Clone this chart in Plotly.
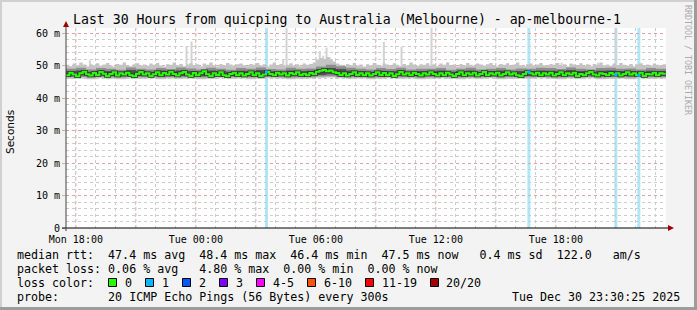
import plotly.graph_objects as go
from datetime import datetime, timedelta

# ---------------- data ----------------
start = datetime(2025, 12, 29, 17, 30, 25)
end = start + timedelta(hours=30)

# median rtt (ms), one value per 10 minutes
median_rtt = [
    47.0, 47.8, 47.2, 46.7, 47.6, 48.1, 47.3, 46.9, 47.7, 47.1, 48.0, 47.5, 46.8, 47.4, 47.9, 46.9, 47.6, 47.2,
    47.8, 47.0, 46.7, 47.5, 48.0, 47.2, 47.6, 46.8, 47.3, 47.9, 47.0, 47.7, 47.2, 48.1, 47.4, 46.9, 47.6, 48.0,
    47.2, 46.8, 47.7, 47.0, 47.6, 48.2, 47.3, 46.8, 47.6, 47.1, 47.9, 47.0, 46.7, 47.4, 47.8, 47.0, 47.6, 46.9,
    47.4, 47.9, 47.0, 47.6, 46.8, 47.2, 48.0, 47.4, 47.0, 47.8, 47.2, 47.6, 46.9, 47.7, 47.3, 47.9, 47.1, 47.5,
    47.0, 47.7, 47.3, 48.1, 48.4, 48.6, 48.2, 48.5, 47.9, 47.7, 47.1, 47.6, 46.9, 47.4, 47.9, 47.1, 47.6, 47.0,
    47.6, 46.9, 47.4, 47.9, 47.1, 47.7, 47.0, 47.6, 46.8, 47.3, 48.0, 47.2, 47.6, 47.0, 47.8, 47.4, 46.9, 47.6,
    47.2, 47.9, 47.4, 46.9, 47.6, 47.0, 47.8, 47.2, 46.8, 47.4, 47.9, 47.0, 47.6, 47.2, 47.8, 46.9, 47.4, 48.0,
    47.0, 47.6, 47.2, 47.8, 46.9, 47.4, 47.9, 47.2, 47.6, 47.0, 46.7, 47.4, 48.0, 47.6, 47.2, 47.8, 47.0, 47.6,
    47.2, 47.8, 46.9, 47.4, 47.9, 47.0, 47.6, 47.2, 47.8, 46.8, 47.4, 47.0, 47.6, 48.0, 47.2, 46.9, 47.6, 47.4,
    47.0, 47.7, 47.2, 47.6, 46.9, 47.4, 47.9, 47.2, 47.6, 47.0, 47.8, 46.8, 47.4, 47.2, 47.8, 47.0, 47.6, 47.5,
]

# top of the smoke (slowest regular ping, ms), one value per 10 minutes
outer_hi = [
    50.2, 49.8, 50.6, 50.0, 50.9, 50.3, 49.7, 50.4, 50.1, 50.7, 49.9, 50.3, 50.8, 50.0, 49.7, 50.5, 50.2, 50.9,
    50.1, 49.8, 50.4, 50.7, 50.0, 50.3, 49.9, 50.6, 50.2, 50.8, 50.0, 49.7, 50.4, 50.2, 50.9, 50.1, 50.5, 49.8,
    50.3, 50.7, 50.0, 50.4, 49.8, 50.6, 50.2, 50.9, 50.1, 49.7, 50.5, 50.0, 50.8, 50.3, 49.9, 50.4, 50.6, 50.1,
    49.8, 50.5, 50.2, 50.8, 50.0, 50.4, 49.7, 50.3, 50.9, 50.1, 50.5, 49.9, 50.2, 50.7, 50.0, 50.4, 49.8, 50.6,
    50.2, 50.5, 50.9, 51.6, 52.3, 52.0, 52.6, 51.8, 51.2, 50.6, 50.2, 49.9, 50.5, 50.1, 50.8, 50.0, 50.3, 49.7,
    50.4, 50.1, 50.8, 50.2, 49.9, 50.6, 50.3, 50.0, 50.7, 50.2, 49.8, 50.5, 50.1, 50.9, 50.3, 49.9, 50.4, 50.2,
    50.7, 50.0, 50.4, 49.8, 50.6, 50.2, 50.9, 50.1, 50.3, 49.7, 50.5, 50.0, 50.8, 50.2, 49.9, 50.6, 50.3, 50.0,
    50.4, 50.8, 50.1, 49.8, 50.5, 50.2, 50.7, 50.0, 50.3, 50.9, 50.1, 49.8, 50.4, 50.6, 50.0, 50.3, 50.8, 50.1,
    49.9, 50.5, 50.2, 50.8, 50.0, 50.4, 49.7, 50.6, 50.3, 50.1, 50.7, 50.0, 50.4, 49.8, 50.5, 50.2, 50.9, 50.1,
    50.3, 49.9, 50.6, 50.1, 50.8, 50.2, 50.0, 50.5, 49.8, 50.4, 50.7, 50.1, 50.3, 49.9, 50.6, 50.2, 50.0, 50.4,
]

# inner smoke bands (ms), one value per 30 minutes
outer_lo = [
    45.9, 46.0, 45.8, 46.1, 45.9, 45.8, 46.0, 45.9, 46.1, 45.8, 46.0, 45.9,
    46.0, 45.8, 45.9, 46.1, 45.9, 46.0, 45.8, 45.9, 46.1, 46.0, 45.8, 45.9,
    46.0, 46.2, 46.3, 46.1, 45.9, 46.0, 45.8, 45.9, 46.1, 45.9, 46.0, 45.8,
    45.9, 46.1, 45.9, 45.8, 46.0, 45.9, 46.1, 45.8, 45.9, 46.0, 45.9, 46.1,
    45.9, 45.8, 46.0, 45.9, 46.1, 45.8, 45.9, 46.0, 45.8, 46.1, 45.9, 46.0,
]
mid_hi = [
    49.0, 49.3, 48.8, 49.2, 49.0, 48.7, 49.4, 49.0, 48.8, 49.2, 48.9, 49.4,
    49.1, 48.8, 49.3, 49.0, 48.7, 49.2, 49.0, 49.4, 48.9, 48.8, 49.3, 49.0,
    49.1, 49.7, 50.2, 49.8, 49.3, 49.0, 48.8, 49.2, 48.9, 49.3, 48.8, 49.0,
    49.0, 49.2, 48.7, 49.0, 49.3, 48.8, 49.0, 49.2, 48.8, 49.1, 49.0, 49.3,
    49.2, 48.9, 49.4, 49.0, 48.8, 49.2, 49.3, 49.0, 49.1, 48.8, 49.2, 49.0,
]
mid_lo = [
    46.4, 46.5, 46.3, 46.5, 46.4, 46.3, 46.5, 46.4, 46.5, 46.3, 46.4, 46.4,
    46.5, 46.3, 46.4, 46.5, 46.4, 46.4, 46.3, 46.4, 46.5, 46.4, 46.3, 46.4,
    46.4, 46.6, 46.7, 46.5, 46.4, 46.4, 46.3, 46.4, 46.5, 46.4, 46.4, 46.3,
    46.4, 46.5, 46.4, 46.3, 46.4, 46.4, 46.5, 46.3, 46.4, 46.4, 46.4, 46.5,
    46.4, 46.3, 46.4, 46.4, 46.5, 46.3, 46.4, 46.4, 46.3, 46.5, 46.4, 46.4,
]
core_hi = [
    48.3, 48.5, 48.1, 48.4, 48.3, 48.1, 48.6, 48.3, 48.1, 48.5, 48.2, 48.5,
    48.3, 48.1, 48.5, 48.3, 48.1, 48.4, 48.3, 48.6, 48.2, 48.1, 48.5, 48.3,
    48.4, 48.9, 49.2, 48.9, 48.5, 48.3, 48.1, 48.4, 48.2, 48.5, 48.1, 48.3,
    48.3, 48.5, 48.1, 48.3, 48.5, 48.1, 48.3, 48.5, 48.1, 48.3, 48.3, 48.5,
    48.4, 48.2, 48.6, 48.3, 48.1, 48.4, 48.5, 48.3, 48.3, 48.1, 48.4, 48.3,
]
core_lo = [
    46.8, 46.9, 46.7, 46.9, 46.8, 46.7, 46.9, 46.8, 46.9, 46.7, 46.8, 46.8,
    46.9, 46.7, 46.8, 46.9, 46.8, 46.8, 46.7, 46.8, 46.9, 46.8, 46.7, 46.8,
    46.8, 47.1, 47.3, 47.0, 46.8, 46.8, 46.7, 46.8, 46.9, 46.8, 46.8, 46.7,
    46.8, 46.9, 46.8, 46.7, 46.8, 46.8, 46.9, 46.7, 46.8, 46.8, 46.8, 46.9,
    46.8, 46.7, 46.8, 46.8, 46.9, 46.7, 46.8, 46.8, 46.7, 46.9, 46.8, 46.8,
]

# isolated slow pings (max ping of a sample)
spike_times = ["2025-12-29 18:42", "2025-12-29 23:32", "2025-12-29 23:47", "2025-12-30 04:22",
               "2025-12-30 04:32", "2025-12-30 06:02", "2025-12-30 06:12", "2025-12-30 06:22",
               "2025-12-30 06:32", "2025-12-30 06:42", "2025-12-30 09:24", "2025-12-30 10:17",
               "2025-12-30 11:47", "2025-12-30 18:17", "2025-12-30 20:07", "2025-12-30 21:00"]
spike_tops = [51.6, 56.0, 57.4, 51.8, 61.5, 52.0, 54.4, 53.0, 55.5, 52.6, 57.3, 55.8,
              61.5, 50.9, 50.9, 61.5]

# samples with 1/20 packet loss
loss_times = ["2025-12-30 03:32", "2025-12-30 16:39", "2025-12-30 21:00", "2025-12-30 22:09"]

# x axis: hourly grid, labelled every 6 hours, red major line every 3 hours
hour_ticks = [datetime(2025, 12, 29, 18) + timedelta(hours=h) for h in range(30)]
tick_labels = {
    datetime(2025, 12, 29, 18): "Mon 18:00",
    datetime(2025, 12, 30, 0): "Tue 00:00",
    datetime(2025, 12, 30, 6): "Tue 06:00",
    datetime(2025, 12, 30, 12): "Tue 12:00",
    datetime(2025, 12, 30, 18): "Tue 18:00",
}
major_x = [datetime(2025, 12, 29, 18) + timedelta(hours=3 * k) for k in range(10)]
y_tick_vals = [0, 10, 20, 30, 40, 50, 60]
y_tick_text = ["0", "10 m", "20 m", "30 m", "40 m", "50 m", "60 m"]

loss_labels = ["0", "1", "2", "3", "4-5", "6-10", "11-19", "20/20"]
loss_colors = ["#26ff00", "#00b8ff", "#0059ff", "#7e00ff", "#ff00ff", "#ff5500", "#ff0000", "#a10000"]

title = "Last 30 Hours from quicping to Australia (Melbourne) - ap-melbourne-1"
line_rtt = "median rtt:  47.4 ms avg  48.4 ms max  46.4 ms min  47.5 ms now   0.4 ms sd  122.0   am/s"
line_loss = "packet loss: 0.06 % avg   4.80 % max  0.00 % min  0.00 % now"
line_probe = "probe:       20 ICMP Echo Pings (56 Bytes) every 300s"
stamp = "Tue Dec 30 23:30:25 2025"

# ---------------- figure ----------------
W, H = 697, 310
L, R, T, B = 66, 666, 28, 228
RED_GRID = "#e3a3a3"
GRAY_GRID = "#cccccc"


def px(x):
    return (x - L) / (R - L)


def py(y):
    return (B - y) / (B - T)


def nb(s):
    return s.replace(" ", "\u00a0")


med_x = [start + timedelta(minutes=10 * i) for i in range(len(median_rtt))] + [end]
med_y = median_rtt + [median_rtt[-1]]
top_x = [start + timedelta(minutes=10 * i) for i in range(len(outer_hi))] + [end]
band_x = [start + timedelta(minutes=30 * j) for j in range(len(outer_lo))] + [end]


def closed(v):
    return v + [v[-1]]


fig = go.Figure()

# spikes
sx, sy = [], []
for t, v in zip(spike_times, spike_tops):
    sx += [t, t, None]
    sy += [48.0, v, None]
fig.add_trace(go.Scatter(x=sx, y=sy, mode="lines", line=dict(color="#d2d2d2", width=2),
                         hoverinfo="skip", showlegend=False))

# outer smoke band (fine resolution top edge)
fig.add_trace(go.Scatter(x=band_x, y=closed(outer_lo), mode="lines", line=dict(width=0, shape="hv"),
                         hoverinfo="skip", showlegend=False))
fig.add_trace(go.Scatter(x=top_x, y=closed(outer_hi), mode="lines", line=dict(width=0, shape="hv"),
                         fill="tonexty", fillcolor="#c4c4c4", hoverinfo="skip", showlegend=False))
# inner smoke bands
for lo, hi, col in [(mid_lo, mid_hi, "#8e8e8e"), (core_lo, core_hi, "#505050")]:
    fig.add_trace(go.Scatter(x=band_x, y=closed(lo), mode="lines", line=dict(width=0, shape="hv"),
                             hoverinfo="skip", showlegend=False))
    fig.add_trace(go.Scatter(x=band_x, y=closed(hi), mode="lines", line=dict(width=0, shape="hv"),
                             fill="tonexty", fillcolor=col, hoverinfo="skip", showlegend=False))

# dark pings hugging the median, then the median line itself
fig.add_trace(go.Scatter(x=med_x, y=med_y, mode="lines", line=dict(color="#333333", width=3.5, shape="hv"),
                         hoverinfo="skip", showlegend=False))
fig.add_trace(go.Scatter(x=med_x, y=med_y, mode="lines", line=dict(color=loss_colors[0], width=2, shape="hv"),
                         hoverinfo="skip", showlegend=False))

# loss-coloured median points
lx, ly = [], []
for t in loss_times:
    dt = datetime.strptime(t, "%Y-%m-%d %H:%M")
    idx = int((dt - start).total_seconds() // 600)
    lx.append(t)
    ly.append(median_rtt[min(idx, len(median_rtt) - 1)])
fig.add_trace(go.Scatter(x=lx, y=ly, mode="markers", marker=dict(symbol="square", size=3, color=loss_colors[1]),
                         hoverinfo="skip", showlegend=False))

shapes = []
# red major vertical grid every 3 hours
for t in major_x:
    shapes.append(dict(type="line", xref="x", yref="paper", x0=t, x1=t, y0=0, y1=1,
                       line=dict(color=RED_GRID, width=1, dash="dot"), layer="between"))
# loss background bars
for t in loss_times:
    dt = datetime.strptime(t, "%Y-%m-%d %H:%M")
    shapes.append(dict(type="rect", xref="x", yref="paper", x0=dt - timedelta(minutes=4.5),
                       x1=dt + timedelta(minutes=4.5), y0=0, y1=1, fillcolor="#aee6fa",
                       line=dict(width=0), layer="between"))

# axes lines and arrows
shapes.append(dict(type="line", xref="paper", yref="paper", x0=px(62), x1=px(669), y0=0, y1=0,
                   line=dict(color="#000000", width=1)))
shapes.append(dict(type="line", xref="paper", yref="paper", x0=0, x1=0, y0=py(231), y1=py(26),
                   line=dict(color="#404040", width=1)))
shapes.append(dict(type="path", xref="paper", yref="paper",
                   path=f"M {px(668)} {py(225)} L {px(674)} {py(228)} L {px(668)} {py(231)} Z",
                   fillcolor="#a00000", line=dict(width=0)))
shapes.append(dict(type="path", xref="paper", yref="paper",
                   path=f"M {px(63)} {py(27)} L {px(66)} {py(21)} L {px(69)} {py(27)} Z",
                   fillcolor="#a00000", line=dict(width=0)))
# image frame
shapes += [
    dict(type="rect", xref="paper", yref="paper", x0=px(0), x1=px(2), y0=py(310), y1=py(0),
         fillcolor="#d0d0d0", line=dict(width=0)),
    dict(type="rect", xref="paper", yref="paper", x0=px(0), x1=px(697), y0=py(2), y1=py(0),
         fillcolor="#d0d0d0", line=dict(width=0)),
    dict(type="rect", xref="paper", yref="paper", x0=px(694), x1=px(697), y0=py(310), y1=py(0),
         fillcolor="#9c9c9c", line=dict(width=0)),
    dict(type="rect", xref="paper", yref="paper", x0=px(0), x1=px(697), y0=py(310), y1=py(307),
         fillcolor="#9c9c9c", line=dict(width=0)),
]

mono = "DejaVu Sans Mono"
annotations = []


def text(s, x, y, size=11.65, anchor="left", color="#000000", angle=0, family=mono):
    annotations.append(dict(text=nb(s), x=px(x), y=py(y), xref="paper", yref="paper", showarrow=False,
                            xanchor=anchor, yanchor="middle", textangle=angle, borderpad=0,
                            font=dict(family=family, size=size, color=color)))


text(title, 72, 19.5, size=13.2)
text(line_rtt, 16, 254.5)
text(line_loss, 16, 268.5)
text("loss color:", 16, 282.5)
text(line_probe, 16, 296.5)
text(stamp, 681, 296.5, anchor="right")
text("Seconds", 10, 132, size=10.5, angle=-90, family="DejaVu Sans", anchor="center")
text("RRDTOOL / TOBI OETIKER", 688, 60, size=8.3, angle=90, color="#ababab", anchor="center")

box_lefts = [108.5, 145.5, 182.5, 219.5, 256.5, 307.5, 365.5, 430.5]
for bx, lab, col in zip(box_lefts, loss_labels, loss_colors):
    shapes.append(dict(type="rect", xref="paper", yref="paper", x0=px(bx), x1=px(bx + 8),
                       y0=py(286.5), y1=py(278.5), fillcolor=col, line=dict(color="#000000", width=1)))
    text(lab, bx + 15, 282.5)

fig.update_layout(
    width=W, height=H,
    margin=dict(l=L, r=W - R, t=T, b=H - B, pad=0),
    paper_bgcolor="#f3f3f3", plot_bgcolor="#ffffff",
    showlegend=False,
    shapes=shapes, annotations=annotations,
    xaxis=dict(type="date", range=[start, end], tickmode="array", tickvals=hour_ticks,
               ticktext=[tick_labels.get(t, "") for t in hour_ticks],
               showgrid=True, gridcolor=GRAY_GRID, griddash="dot", gridwidth=1,
               ticks="outside", ticklen=2, tickcolor="rgba(0,0,0,0)",
               tickfont=dict(family=mono, size=10, color="#000000"),
               showline=False, zeroline=False, fixedrange=True),
    yaxis=dict(range=[0, 61.54], tickmode="array", tickvals=y_tick_vals, ticktext=y_tick_text,
               showgrid=True, gridcolor=RED_GRID, griddash="dot", gridwidth=1,
               ticks="outside", ticklen=3, tickcolor=RED_GRID,
               tickfont=dict(family=mono, size=10, color="#000000"),
               minor=dict(tickmode="linear", tick0=0, dtick=2, showgrid=True,
                          gridcolor=GRAY_GRID, griddash="dot", gridwidth=1, ticks=""),
               showline=False, zeroline=False, fixedrange=True),
)

fig.write_html("out.html")
